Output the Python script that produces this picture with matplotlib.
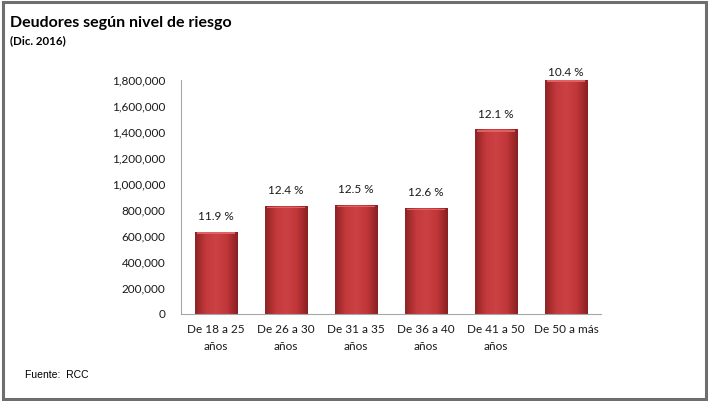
import numpy as np
import matplotlib
matplotlib.use("Agg")
import matplotlib.pyplot as plt
from matplotlib.patches import Rectangle
from matplotlib.colors import LinearSegmentedColormap

# data
categories = ["De 18 a 25\naños", "De 26 a 30\naños", "De 31 a 35\naños",
              "De 36 a 40\naños", "De 41 a 50\naños", "De 50 a más"]
deudores = [628000, 827000, 834000, 812000, 1417000, 1800000]
riesgo_pct = [11.9, 12.4, 12.5, 12.6, 12.1, 10.4]
y_ticks = [0, 200000, 400000, 600000, 800000, 1000000, 1200000, 1400000, 1600000, 1800000]

plt.rcParams['font.family'] = ['Lato', 'DejaVu Sans']

fig = plt.figure(figsize=(7.12, 4.01), dpi=100)
ax = fig.add_axes([0.254, 0.217, 0.590, 0.583])

x = np.arange(len(categories))
bars = ax.bar(x, deudores, width=0.6, color='#b83234', edgecolor='#8e2224',
              linewidth=0.6, zorder=2, clip_on=False)

# horizontal shading to mimic the bevelled bars
red_cmap = LinearSegmentedColormap.from_list(
    'bev', ['#8e2325', '#c4393b', '#cc4244', '#c13739', '#8a2022'])
grad = np.linspace(0, 1, 64).reshape(1, -1)
for b in bars:
    bx, bw, bh = b.get_x(), b.get_width(), b.get_height()
    im = ax.imshow(grad, cmap=red_cmap, aspect='auto', zorder=2.5,
                   extent=[bx, bx + bw, 0, bh], clip_on=False)
    im.set_clip_path(b)
    # light top rim
    ax.add_patch(Rectangle((bx + bw * 0.04, bh - 12000), bw * 0.92, 12000,
                           facecolor='#de6163', edgecolor='none', zorder=3, clip_on=False))

# percentage labels, Excel keeps them inside the chart area
label_gap = 122000
top_limit = 1860000
for xi, v, p in zip(x, deudores, riesgo_pct):
    ax.text(xi, min(v + label_gap, top_limit), f"{p:.1f} %", ha='center', va='center',
            fontsize=8.5, color='#1a1a1a', clip_on=False, zorder=4)

ax.set_xlim(-0.5, len(categories) - 0.5)
ax.set_ylim(0, 1800000)
ax.set_yticks(y_ticks)
ax.set_yticklabels([f"{t:,}" for t in y_ticks], fontsize=8.5, color='#1a1a1a')
ax.set_xticks(x)
ax.set_xticklabels(categories, fontsize=8.5, color='#1a1a1a', linespacing=1.65)
ax.tick_params(axis='y', length=0, pad=11)
ax.tick_params(axis='x', length=0, pad=7)
for s in ['top', 'right']:
    ax.spines[s].set_visible(False)
ax.spines['left'].set_color('#a6a6a6')
ax.spines['bottom'].set_color('#a6a6a6')

fig.text(0.014, 0.943, "Deudores según nivel de riesgo", fontsize=11.5,
         fontweight='bold', va='center', ha='left')
fig.text(0.014, 0.898, "(Dic. 2016)", fontsize=8.3, fontweight='bold',
         va='center', ha='left')
fig.text(0.035, 0.064, "Fuente:  RCC", fontsize=7.5, va='center', ha='left',
         family=['Liberation Sans Narrow', 'Liberation Sans', 'DejaVu Sans'])

# outer frame
fig.add_artist(Rectangle((0.004, 0.006), 0.988, 0.988, transform=fig.transFigure,
                         fill=False, edgecolor='#6e6e6e', linewidth=2.2))

fig.savefig("out.png", dpi=100)
